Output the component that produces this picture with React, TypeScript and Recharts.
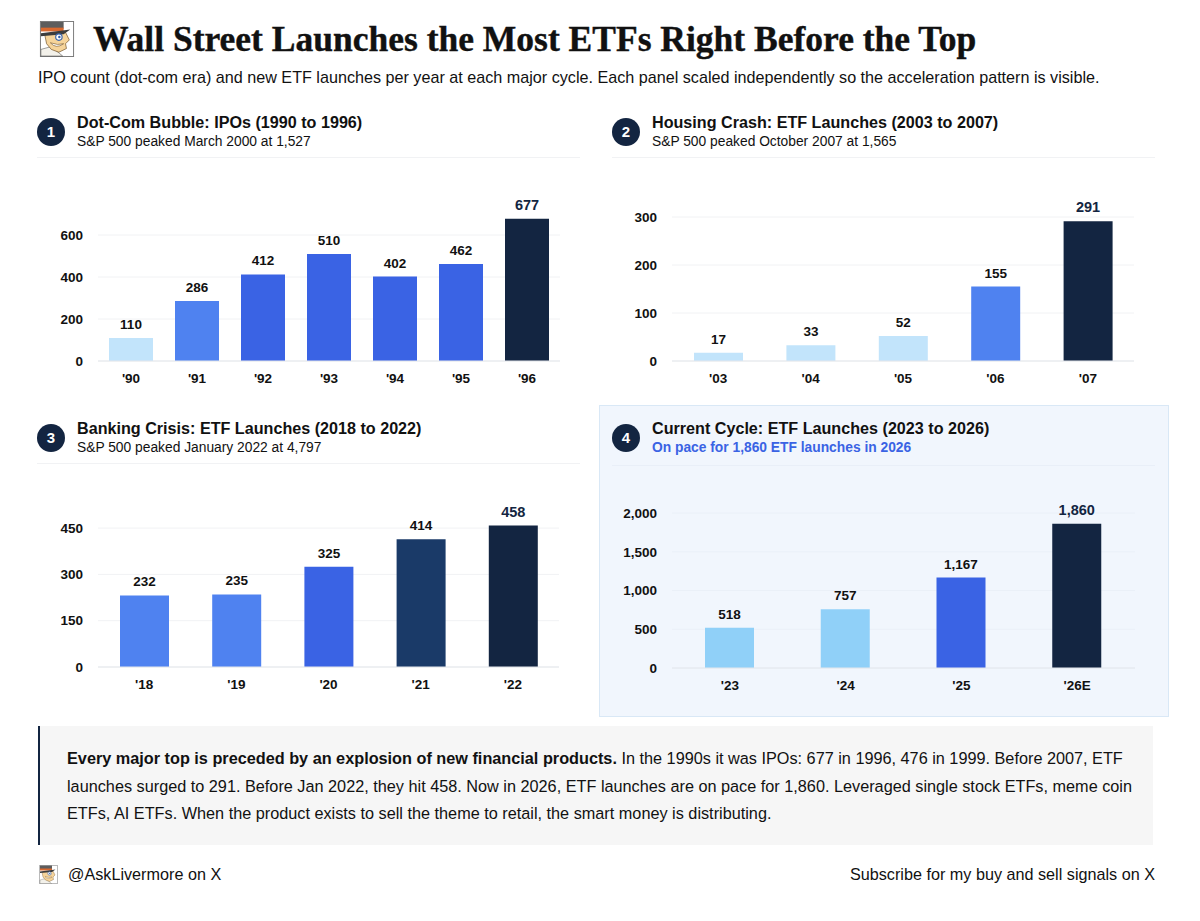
import { BarChart, Bar, XAxis, YAxis, CartesianGrid, Cell, LabelList } from 'recharts'

const NAVY = '#132541'
const DEEP = '#1a3a68'
const BLUE = '#3a63e4'
const MID = '#4f82f0'
const SKY = '#90d0f8'
const PALE = '#c2e4fb'

const dotcomYears = ["'90", "'91", "'92", "'93", "'94", "'95", "'96"]
const dotcomValues = [110, 286, 412, 510, 402, 462, 677]
const dotcomColors = [PALE, MID, BLUE, BLUE, BLUE, BLUE, NAVY]
const dotcomTicks = [0, 200, 400, 600]

const housingYears = ["'03", "'04", "'05", "'06", "'07"]
const housingValues = [17, 33, 52, 155, 291]
const housingColors = [PALE, PALE, PALE, MID, NAVY]
const housingTicks = [0, 100, 200, 300]

const bankingYears = ["'18", "'19", "'20", "'21", "'22"]
const bankingValues = [232, 235, 325, 414, 458]
const bankingColors = [MID, MID, BLUE, DEEP, NAVY]
const bankingTicks = [0, 150, 300, 450]

const currentYears = ["'23", "'24", "'25", "'26E"]
const currentValues = [518, 757, 1167, 1860]
const currentColors = [SKY, SKY, BLUE, NAVY]
const currentTicks = [0, 500, 1000, 1500, 2000]

const sans = '"Liberation Sans", Arial, sans-serif'

const fmt = (v: number) => v.toLocaleString('en-US')

function Avatar({ x, y, size }: { x: number; y: number; size: number }) {
  return (
    <svg style={{ position: 'absolute', left: x, top: y }} width={size} height={size} viewBox="0 0 36 38">
      <rect x="0.5" y="0.5" width="35" height="37" fill="#fff" stroke="#777" />
      <path d="M1 37 L1 30 L12 27 L24 37 Z" fill="#f3f1ea" stroke="#555" strokeWidth="0.6" />
      <path d="M5 14 L27 12 L31 20 L27 24 L28 29 L20 33 L12 30 L7 24 Z" fill="#f6d49a" stroke="#6a4a22" strokeWidth="0.7" />
      <rect x="1" y="1" width="24" height="7" fill="#5d5d5d" />
      <rect x="1" y="7" width="24" height="4" fill="#d9692f" />
      <path d="M1 13 L32 9 L25 14 L1 16 Z" fill="#3c3c3c" />
      <circle cx="20" cy="17" r="3.4" fill="#fff" stroke="#3a63a8" strokeWidth="1.2" />
      <circle cx="20.5" cy="17" r="1.3" fill="#2f5fb0" />
      <path d="M11 23 Q17 30 25 24 Q19 26 11 23 Z" fill="#fff" stroke="#6a4a22" strokeWidth="0.6" />
    </svg>
  )
}

function PanelHead({ n, x, y, title, sub, subColor, subBold, rule, ruleColor }: any) {
  return (
    <>
      <div style={{ position: 'absolute', left: x, top: y, width: 28, height: 28, borderRadius: 14, background: NAVY, color: '#fff', fontWeight: 700, fontSize: 15, lineHeight: '28px', textAlign: 'center' }}>{n}</div>
      <div style={{ position: 'absolute', left: x + 40, top: y - 6, whiteSpace: 'nowrap', fontWeight: 700, fontSize: 16.15, lineHeight: '20px', color: '#111' }}>{title}</div>
      <div style={{ position: 'absolute', left: x + 40, top: y + 14, whiteSpace: 'nowrap', fontSize: 13.8, lineHeight: '19px', fontWeight: subBold ? 700 : 400, color: subColor ?? '#111' }}>{sub}</div>
      <div style={{ position: 'absolute', left: x, top: rule, width: 543, height: 1, background: ruleColor ?? '#f1f2f4' }} />
    </>
  )
}

function ValueLabel({ x, y, width, value, index, last }: any) {
  const isLast = index === last
  return (
    <text x={x + width / 2} y={y - 9} textAnchor="middle" fontFamily={sans} fontWeight={700} fontSize={isLast ? 14.5 : 13.5} fill={isLast ? NAVY : '#111'}>
      {fmt(value)}
    </text>
  )
}

function CycleChart({ left, top, plotLeft, width, height, years, values, colors, ticks, max, barWidth, grid }: any) {
  const rows = years.map((year: string, i: number) => ({ year, value: values[i] }))
  return (
    <div style={{ position: 'absolute', left, top }}>
      <BarChart width={width} height={height} data={rows} margin={{ top: 40, right: 0, left: 0, bottom: 0 }}>
        <CartesianGrid horizontal vertical={false} stroke={grid} syncWithTicks />
        <XAxis dataKey="year" height={30} tickLine={false} axisLine={{ stroke: '#e4e7ec' }} interval={0} tickMargin={6} tick={{ fontFamily: sans, fontWeight: 700, fontSize: 13.5, fill: '#111' }} />
        <YAxis width={plotLeft} type="number" domain={[0, max]} ticks={ticks} tickFormatter={fmt} tickLine={false} axisLine={false} tickMargin={9} interval={0} tick={{ fontFamily: sans, fontWeight: 700, fontSize: 13.5, fill: '#111' }} />
        <Bar dataKey="value" barSize={barWidth} isAnimationActive={false}>
          {colors.map((c: string, i: number) => (
            <Cell key={i} fill={c} />
          ))}
          <LabelList dataKey="value" content={(p: any) => <ValueLabel {...p} last={years.length - 1} />} />
        </Bar>
      </BarChart>
    </div>
  )
}

export default function App() {
  return (
    <div style={{ position: 'absolute', left: 0, top: 0, width: 1200, height: 921, background: '#fff', fontFamily: sans, overflow: 'hidden' }}>
      <Avatar x={39} y={21} size={36} />
      <div style={{ position: 'absolute', left: 93, top: 17, whiteSpace: 'nowrap', fontFamily: '"Liberation Serif", serif', fontWeight: 700, fontSize: 35.5, lineHeight: '44px', color: '#111', WebkitTextStroke: '0.4px #111' }}>
        Wall Street Launches the Most ETFs Right Before the Top
      </div>
      <div style={{ position: 'absolute', left: 38, top: 66, whiteSpace: 'nowrap', fontSize: 16.17, lineHeight: '22px', color: '#111' }}>
        IPO count (dot-com era) and new ETF launches per year at each major cycle. Each panel scaled independently so the acceleration pattern is visible.
      </div>

      <PanelHead n={1} x={37} y={118} title="Dot-Com Bubble: IPOs (1990 to 1996)" sub="S&P 500 peaked March 2000 at 1,527" rule={157} />
      <CycleChart left={0} top={174} plotLeft={98} width={560} height={217} years={dotcomYears} values={dotcomValues} colors={dotcomColors} ticks={dotcomTicks} max={700} barWidth={44} grid="#f1f2f4" />

      <PanelHead n={2} x={612} y={118} title="Housing Crash: ETF Launches (2003 to 2007)" sub="S&P 500 peaked October 2007 at 1,565" rule={157} />
      <CycleChart left={574} top={177} plotLeft={98} width={560} height={214} years={housingYears} values={housingValues} colors={housingColors} ticks={housingTicks} max={300} barWidth={49} grid="#f1f2f4" />

      <PanelHead n={3} x={37} y={424} title="Banking Crisis: ETF Launches (2018 to 2022)" sub="S&P 500 peaked January 2022 at 4,797" rule={463} />
      <CycleChart left={0} top={485} plotLeft={98} width={559} height={212} years={bankingYears} values={bankingValues} colors={bankingColors} ticks={bankingTicks} max={460} barWidth={49} grid="#f1f2f4" />

      <div style={{ position: 'absolute', left: 599, top: 405, width: 568, height: 310, background: '#f1f6fd', border: '1px solid #d9e8f6' }} />
      <PanelHead n={4} x={612} y={424} title="Current Cycle: ETF Launches (2023 to 2026)" sub="On pace for 1,860 ETF launches in 2026" subColor={BLUE} subBold rule={465} ruleColor="#e9eff8" />
      <CycleChart left={574} top={473} plotLeft={98} width={561} height={225} years={currentYears} values={currentValues} colors={currentColors} ticks={currentTicks} max={2000} barWidth={49} grid="#eaf0f8" />

      <div style={{ position: 'absolute', left: 38, top: 726, width: 1115, height: 119, background: '#f6f6f6' }} />
      <div style={{ position: 'absolute', left: 38, top: 726, width: 2, height: 119, background: NAVY }} />
      <div style={{ position: 'absolute', left: 67, top: 745, whiteSpace: 'nowrap', fontSize: 16.25, lineHeight: '27.5px', color: '#111' }}>
        <b>Every major top is preceded by an explosion of new financial products.</b> In the 1990s it was IPOs: 677 in 1996, 476 in 1999. Before 2007, ETF<br />
        launches surged to 291. Before Jan 2022, they hit 458. Now in 2026, ETF launches are on pace for 1,860. Leveraged single stock ETFs, meme coin<br />
        ETFs, AI ETFs. When the product exists to sell the theme to retail, the smart money is distributing.
      </div>

      <Avatar x={39} y={865} size={19} />
      <div style={{ position: 'absolute', left: 68, top: 863, whiteSpace: 'nowrap', fontSize: 16.2, lineHeight: '22px', color: '#111' }}>@AskLivermore on X</div>
      <div style={{ position: 'absolute', right: 45, top: 863, whiteSpace: 'nowrap', fontSize: 16.2, lineHeight: '22px', color: '#111' }}>Subscribe for my buy and sell signals on X</div>
    </div>
  )
}
